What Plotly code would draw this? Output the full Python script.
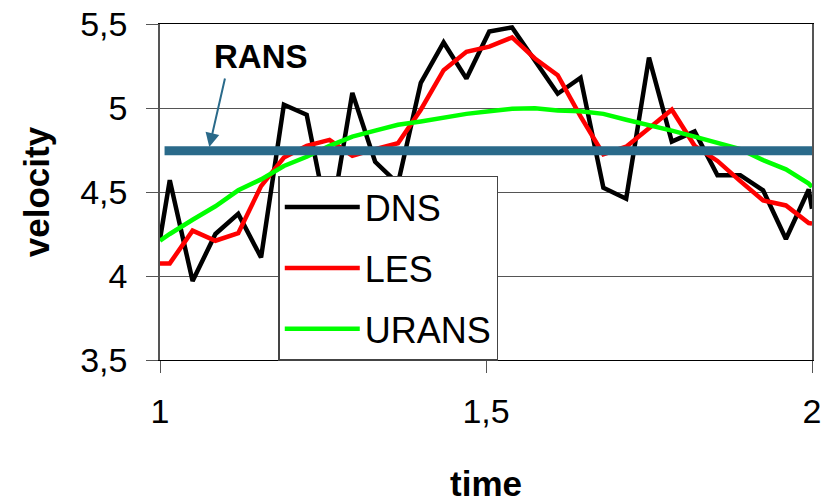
import plotly.graph_objects as go

# Sample times and velocity signals for the four turbulence approaches
time = [1.000, 1.015, 1.050, 1.085, 1.120, 1.155, 1.190, 1.225, 1.260, 1.295,
        1.330, 1.365, 1.400, 1.435, 1.470, 1.505, 1.540, 1.575, 1.610, 1.645,
        1.680, 1.715, 1.750, 1.785, 1.820, 1.855, 1.890, 1.925, 1.960, 1.995,
        2.000]

dns = [4.22, 4.57, 3.97, 4.25, 4.37, 4.11, 5.02, 4.96, 4.28, 5.09,
       4.68, 4.55, 5.15, 5.39, 5.175, 5.455, 5.48, 5.28, 5.085, 5.18,
       4.525, 4.46, 5.30, 4.80, 4.86, 4.60, 4.60, 4.51, 4.22, 4.515,
       4.40]

les = [4.075, 4.075, 4.27, 4.21, 4.255, 4.535, 4.705, 4.775, 4.81, 4.715,
       4.755, 4.79, 4.99, 5.225, 5.335, 5.365, 5.42, 5.295, 5.195, 4.95,
       4.725, 4.77, 4.88, 4.99, 4.775, 4.685, 4.565, 4.45, 4.42, 4.315,
       4.313]

urans = [4.21, 4.25, 4.335, 4.415, 4.51, 4.575, 4.655, 4.71, 4.775, 4.83,
         4.865, 4.90, 4.92, 4.945, 4.965, 4.98, 4.996, 4.998, 4.985, 4.98,
         4.965, 4.93, 4.90, 4.865, 4.83, 4.79, 4.755, 4.69, 4.635, 4.55,
         4.53]

rans_time = [1.007, 2.0]
rans = [4.745, 4.745]

FONT = "Liberation Sans, Arial, sans-serif"
RANS_COLOR = "#2A6A8A"

fig = go.Figure()
fig.add_trace(go.Scatter(x=time, y=dns, mode="lines", name="DNS",
                         legendgroup="dns",
                         line=dict(color="black", width=4.5)))
fig.add_trace(go.Scatter(x=time, y=les, mode="lines", name="LES",
                         legendgroup="les",
                         line=dict(color="#FF0000", width=4.5)))
fig.add_trace(go.Scatter(x=time, y=urans, mode="lines", name="URANS",
                         legendgroup="urans",
                         line=dict(color="#00FF00", width=4.5)))
fig.add_trace(go.Scatter(x=rans_time, y=rans, mode="lines", name="RANS",
                         showlegend=False,
                         line=dict(color=RANS_COLOR, width=9)))

fig.add_annotation(x=1.155, y=5.305, text="<b>RANS</b>", showarrow=False,
                   font=dict(family=FONT, size=33, color="black"))
fig.add_annotation(x=1.0756, y=4.768, text="", showarrow=True,
                   ax=16, ay=-70, arrowcolor=RANS_COLOR, arrowwidth=2,
                   arrowhead=2, arrowsize=1.4, standoff=0)

fig.update_layout(
    width=828, height=503,
    margin=dict(l=160, r=16, t=24, b=143, autoexpand=False),
    paper_bgcolor="white", plot_bgcolor="white",
    separators=", ",
    font=dict(family=FONT, color="black"),
    legend=dict(x=0.1814, y=0.5485, xanchor="left", yanchor="top",
                bgcolor="white", bordercolor="#444", borderwidth=1.5,
                font=dict(family=FONT, size=36, color="black"),
                tracegroupgap=11, itemwidth=75, entrywidth=225,
                entrywidthmode="pixels"),
    xaxis=dict(range=[1, 2], tickvals=[1, 1.5, 2], ticks="outside",
               ticklen=12, tickcolor="#555", showline=True,
               linecolor="black", linewidth=1, mirror=True, showgrid=False,
               zeroline=False, tickfont=dict(size=34), automargin=False,
               ticklabelstandoff=9,
               title=dict(text="<b>time</b>", font=dict(size=35),
                          standoff=42)),
    yaxis=dict(range=[3.5, 5.5], dtick=0.5, ticks="outside", ticklen=12,
               tickcolor="#555", showline=True, linecolor="#555",
               linewidth=1.5, mirror=True, showgrid=True, gridcolor="#555",
               gridwidth=1, zeroline=False, tickfont=dict(size=34),
               automargin=False, ticklabelstandoff=12,
               title=dict(text="<b>velocity</b>", font=dict(size=35),
                          standoff=20)),
)

fig.write_html("out.html")
